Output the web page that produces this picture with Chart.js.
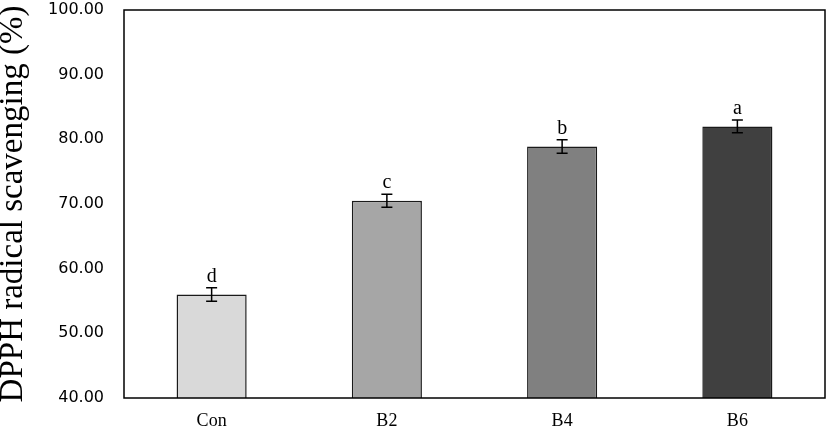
<!DOCTYPE html>
<html lang="en">
<head>
  <meta charset="UTF-8">
  <title>DPPH radical scavenging</title>
  <script src="https://cdn.jsdelivr.net/npm/chart.js"></script>
  <style>
    html, body { margin: 0; padding: 0; background: #fff; }
    #wrap { width: 827px; height: 427px; }
  </style>
</head>
<body>
  <div id="wrap"><canvas id="chartCanvas" width="827" height="427"></canvas></div>
  <script>
    // Datos
    const categories = ['Con', 'B2', 'B4', 'B6'];
    const means = [56.0, 70.5, 78.9, 82.0];
    const errors = [1.05, 1.0, 1.05, 1.0];
    const letters = ['d', 'c', 'b', 'a'];
    const barColors = ['#d9d9d9', '#a6a6a6', '#808080', '#404040'];
    const yTicks = [40, 50, 60, 70, 80, 90, 100];

    // Error bars + letras
    const errorPlugin = {
      id: 'errorBars',
      afterDatasetsDraw(chart) {
        const ctx = chart.ctx;
        const meta = chart.getDatasetMeta(0);
        const y = chart.scales.y;
        ctx.save();
        ctx.strokeStyle = '#000';
        ctx.lineWidth = 1.5;
        ctx.fillStyle = '#000';
        ctx.font = '20px "Liberation Serif", "Times New Roman", serif';
        ctx.textAlign = 'center';
        ctx.textBaseline = 'alphabetic';
        meta.data.forEach((bar, i) => {
          const x = bar.x;
          const top = y.getPixelForValue(means[i] + errors[i]);
          const bot = y.getPixelForValue(means[i] - errors[i]);
          ctx.beginPath();
          ctx.moveTo(x, top); ctx.lineTo(x, bot);
          ctx.moveTo(x - 5.5, top); ctx.lineTo(x + 5.5, top);
          ctx.moveTo(x - 5.5, bot); ctx.lineTo(x + 5.5, bot);
          ctx.stroke();
          ctx.fillText(letters[i], x, top - 6);
        });
        ctx.restore();
      }
    };

    // Marco del area
    const framePlugin = {
      id: 'frame',
      afterDraw(chart) {
        const a = chart.chartArea;
        const ctx = chart.ctx;
        ctx.save();
        ctx.strokeStyle = '#000';
        ctx.lineWidth = 1.5;
        ctx.strokeRect(a.left, a.top, a.right - a.left, a.bottom - a.top);
        ctx.restore();
      }
    };

    new Chart(document.getElementById('chartCanvas'), {
      type: 'bar',
      data: {
        labels: categories,
        datasets: [{
          data: means,
          backgroundColor: barColors,
          borderColor: '#1a1a1a',
          borderWidth: 1.5,
          barPercentage: 0.4,
          categoryPercentage: 1
        }]
      },
      options: {
        responsive: false,
        animation: false,
        layout: { padding: { top: 10, right: 2 } },
        plugins: { legend: { display: false }, tooltip: { enabled: false } },
        scales: {
          x: {
            grid: { display: false, drawTicks: false },
            border: { display: false },
            ticks: {
              color: '#000',
              padding: 12,
              font: { family: '"Liberation Serif", "Times New Roman", serif', size: 18 }
            },
            afterFit: s => { s.height = 29; s.paddingLeft = 0; s.paddingRight = 0; }
          },
          y: {
            min: 40,
            max: 100,
            grid: { display: false, drawTicks: false },
            border: { display: false },
            afterBuildTicks: s => { s.ticks = yTicks.map(v => ({ value: v })); },
            ticks: {
              color: '#000',
              padding: 20,
              font: { family: '"DejaVu Sans", Verdana, sans-serif', size: 16 },
              callback: v => Number(v).toFixed(2)
            },
            title: {
              display: true,
              text: 'DPPH radical scavenging (%)',
              color: '#000',
              padding: { top: -3, bottom: 0 },
              font: { family: '"Liberation Serif", "Times New Roman", serif', size: 33, lineHeight: 1 }
            },
            afterFit: s => { s.width = 124; s.paddingTop = 0; s.paddingBottom = 0; }
          }
        }
      },
      plugins: [errorPlugin, framePlugin]
    });
  </script>
</body>
</html>
